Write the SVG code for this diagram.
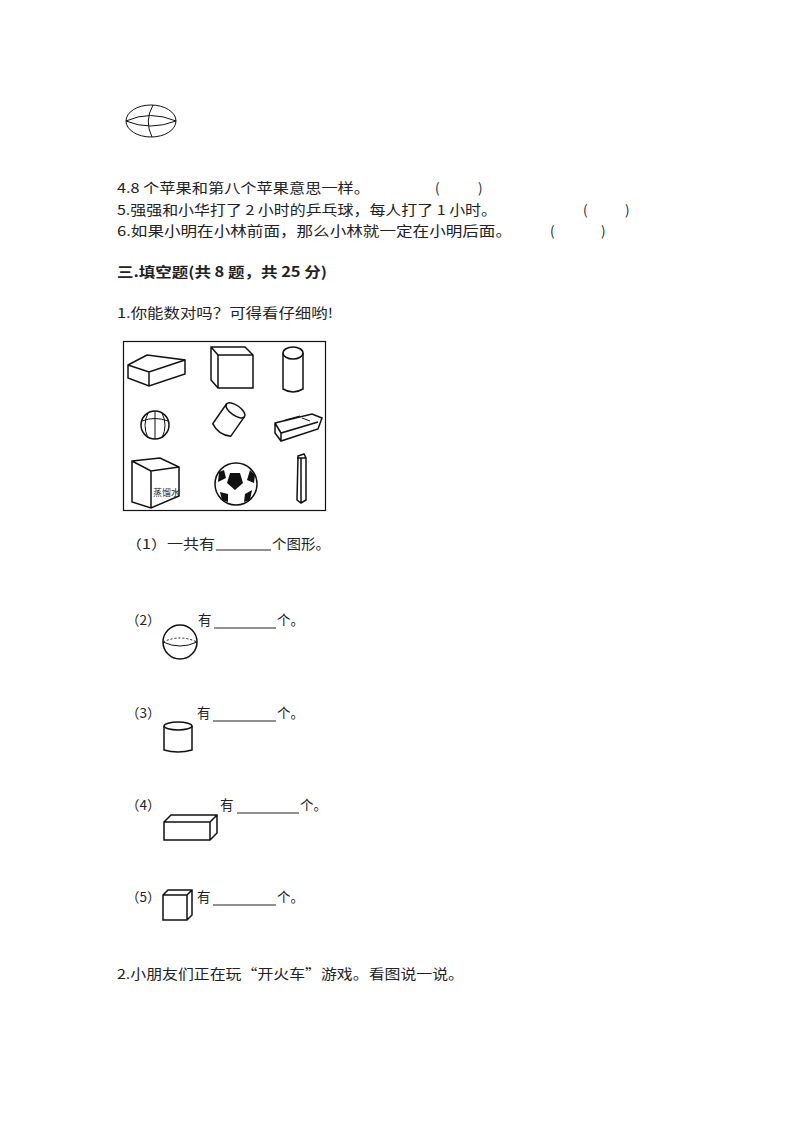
<svg xmlns="http://www.w3.org/2000/svg" width="794" height="1123" viewBox="0 0 794 1123">
<style>
text{font-family:"Noto Sans CJK SC","Liberation Sans",sans-serif;font-size:13.5px;fill:#222}
.b{font-weight:bold;font-size:14px}
.s{fill:none;stroke:#111;stroke-width:1.5}
.t{fill:none;stroke:#111;stroke-width:1}
.d{fill:none;stroke:#111;stroke-width:1;stroke-dasharray:2 2}
</style>
<rect width="794" height="1123" fill="#fff"/>
<g id="ball-top">
<ellipse class="t" cx="151" cy="121" rx="25" ry="16"/>
<path class="t" d="M126 121 Q150 110 176 121 M126 121 Q150 131 176 121 M153 105 Q144 121 152 137"/>
</g>
<text x="117" y="193" textLength="253" lengthAdjust="spacingAndGlyphs">4.8 个苹果和第八个苹果意思一样。</text>
<text x="435" y="193">(</text><text x="478" y="193">)</text>
<text x="117" y="215" textLength="380" lengthAdjust="spacingAndGlyphs">5.强强和小华打了 2 小时的乒乓球，每人打了 1 小时。</text>
<text x="583" y="215">(</text><text x="625" y="215">)</text>
<text x="117" y="236" textLength="395" lengthAdjust="spacingAndGlyphs">6.如果小明在小林前面，那么小林就一定在小明后面。</text>
<text x="550" y="236">(</text><text x="601" y="236">)</text>
<text class="b" x="117" y="277" textLength="210" lengthAdjust="spacingAndGlyphs">三.填空题(共 8 题，共 25 分)</text>
<text x="117" y="318" textLength="216" lengthAdjust="spacingAndGlyphs">1.你能数对吗？可得看仔细哟!</text>
<g id="picture">
<rect x="123.5" y="341.5" width="202" height="169" fill="none" stroke="#111" stroke-width="1.2"/>
<path class="s" d="M128 365 L147 355 L185 360 L185 374 L149 386 L128 378 Z M128 365 L149 372 L185 360 M149 372 L149 386"/>
<path class="s" d="M211 347 L245 347 L253 355 L253 388 L218 388 L211 380 Z M211 347 L218 355 L253 355 M218 355 L218 388"/>
<ellipse class="s" cx="293" cy="353" rx="10" ry="6"/>
<path class="s" d="M283 353 L283 389 Q293 395 303 389 L303 353"/>
<circle class="s" cx="155" cy="425" r="14"/>
<path class="t" d="M155 411 L155 439 M148 413 Q142 425 148 438 M162 413 Q168 425 162 438 M142 421 Q155 416 168 421"/>
<g transform="rotate(35 228 421)">
<ellipse class="s" cx="228" cy="408" rx="11" ry="5"/>
<path class="s" d="M217 408 L217 432 Q228 438 239 432 L239 408"/>
</g>
<path class="s" d="M275 423 L312 414 L322 418 L318 429 L281 441 L275 433 Z M275 423 L281 433 L318 422 M281 433 L281 441"/>
<path class="t" d="M285 420 L300 416 M302 418 L310 421"/>
<path class="s" d="M132 461 L160 458 L179 467 L179 496 L151 508 L132 502 Z M132 461 L151 471 L179 467 M151 471 L151 508"/>
<text x="153" y="496" style="font-size:9px">蒸馏水</text>
<circle class="s" cx="236" cy="484" r="21"/>
<path d="M230 473 L240 473 L243 483 L235 490 L227 483 Z M219 472 L224 470 L226 478 L218 482 Z M250 470 L255 475 L254 483 L247 480 Z M220 492 L228 494 L228 502 L222 500 Z M245 494 L252 490 L250 500 L244 502 Z" fill="#111"/>
<path class="s" d="M298 456 L304 454 L306 458 L306 500 L301 503 L297 500 Z M297 458 L306 458 M301 458 L301 503"/>
</g>
<text x="126" y="549" textLength="89" lengthAdjust="spacingAndGlyphs">（1）一共有</text>
<line x1="216" y1="550" x2="271" y2="550" stroke="#222"/>
<text x="272" y="549" textLength="58" lengthAdjust="spacingAndGlyphs">个图形。</text>
<text x="126" y="625">（2）</text>
<g id="sphere"><circle class="s" cx="180" cy="642" r="17"/><path class="t" d="M163 642 Q180 650 197 642"/><path class="d" d="M163 642 Q180 634 197 642"/></g>
<text x="198" y="625">有</text><line x1="214" y1="628" x2="276" y2="628" stroke="#222"/><text x="277" y="625">个。</text>
<text x="126" y="718">（3）</text>
<g id="cyl"><ellipse class="s" cx="178" cy="726" rx="14" ry="4"/><path class="s" d="M164 726 L164 750 Q178 754 192 750 L192 726"/></g>
<text x="197" y="718">有</text><line x1="213" y1="721" x2="276" y2="721" stroke="#222"/><text x="277" y="718">个。</text>
<text x="126" y="810">（4）</text>
<g id="box"><path class="s" d="M164 822 L171 815 L217 815 L217 833 L210 840 L164 840 Z M164 822 L210 822 L217 815 M210 822 L210 840"/></g>
<text x="220" y="810">有</text><line x1="237" y1="813" x2="299" y2="813" stroke="#222"/><text x="300" y="810">个。</text>
<text x="126" y="902">（5）</text>
<g id="cube"><path class="s" d="M163 895 L168 890 L192 890 L192 915 L187 920 L163 920 Z M163 895 L187 895 L192 890 M187 895 L187 920"/></g>
<text x="197" y="902">有</text><line x1="213" y1="905" x2="276" y2="905" stroke="#222"/><text x="277" y="902">个。</text>
<text x="117" y="979" textLength="347" lengthAdjust="spacingAndGlyphs">2.小朋友们正在玩“开火车”游戏。看图说一说。</text>
</svg>
